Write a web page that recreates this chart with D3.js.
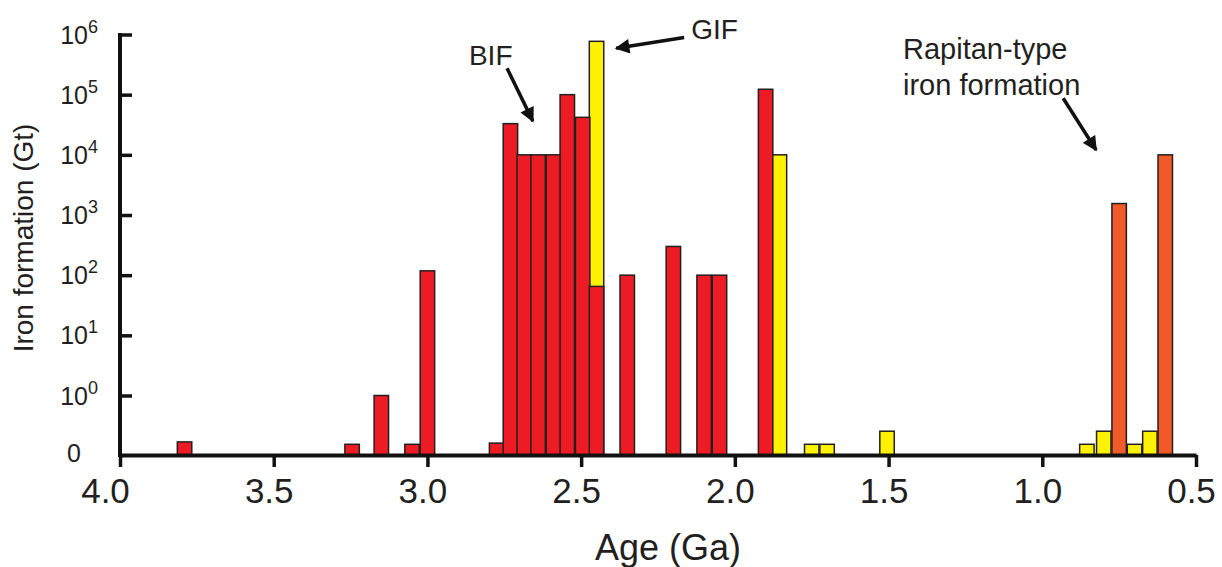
<!DOCTYPE html>
<html>
<head>
<meta charset="utf-8">
<script src="https://cdn.jsdelivr.net/npm/d3@7"></script>
<style>
  html, body { margin: 0; padding: 0; background: #fff; }
  svg { display: block; }
  text { font-family: "Liberation Sans", Arial, sans-serif; fill: #231f20; }
</style>
</head>
<body>
<svg id="chart" width="1222" height="567"></svg>
<script>
// ---- Data ----
const redAges     = [3.79, 3.245, 3.15, 3.05, 3.0, 2.775, 2.73, 2.685, 2.64, 2.59, 2.545, 2.495, 2.45, 2.35, 2.2, 2.1, 2.05, 1.9];
const redValues   = [0.22, 0.18, 1, 0.18, 118, 0.2, 33000, 10000, 10000, 10000, 100000, 42000, 65, 100, 300, 100, 100, 123000];
const yellowAges   = [2.45, 1.855, 1.75, 1.70, 1.505, 0.855, 0.80, 0.70, 0.65];
const yellowValues = [770000, 10000, 0.18, 0.18, 0.4, 0.18, 0.4, 0.18, 0.4];
const orangeAges   = [0.75, 0.60];
const orangeValues = [1550, 10000];
const xTicks = [4.0, 3.5, 3.0, 2.5, 2.0, 1.5, 1.0, 0.5];
const yLogTicks = [1, 10, 100, 1000, 10000, 100000, 1000000];
const yExponents = ["0", "1", "2", "3", "4", "5", "6"];
const xTitle = "Age (Ga)";
const yTitle = "Iron formation (Gt)";
// annotations: arrow tail/tip in (age, value)
const annotations = [
  { lines: ["BIF"], textAge: 2.865, textVal: 10 ** 5.49, tail: [2.741, 10 ** 5.44], tip: [2.657, 10 ** 4.56] },
  { lines: ["GIF"], textAge: 2.142, textVal: 10 ** 5.93, tail: [2.165, 10 ** 5.95], tip: [2.386, 10 ** 5.77] },
  { lines: ["Rapitan-type", "iron formation"], textAge: 1.453, textVal: 10 ** 5.6, tail: [0.932, 10 ** 4.94], tip: [0.825, 10 ** 4.08] }
];

const binWidth = 0.047;
const colors = { red: "#ed1c24", yellow: "#fff200", orange: "#f15a29" };

// ---- Scales ----
const x = d3.scaleLinear().domain([4.0, 0.5]).range([120, 1196]);
const yLog = d3.scaleLog().domain([1, 1e6]).range([395.5, 34.5]);
const yLin = d3.scaleLinear().domain([0, 1]).range([455, 395.5]);
const y = v => (v >= 1 ? yLog(v) : yLin(v));

const svg = d3.select("#chart");

// ---- Bars ----
function drawBars(ages, values, color) {
  const data = ages.map((a, i) => ({ a, v: values[i] }));
  svg.append("g").selectAll("rect").data(data).join("rect")
    .attr("x", d => x(d.a + binWidth / 2))
    .attr("width", d => x(d.a - binWidth / 2) - x(d.a + binWidth / 2))
    .attr("y", d => y(d.v))
    .attr("height", d => y(0) - y(d.v))
    .attr("fill", color)
    .attr("stroke", "#231f20")
    .attr("stroke-width", 1.5);
}
drawBars(yellowAges, yellowValues, colors.yellow);
drawBars(redAges, redValues, colors.red);
drawBars(orangeAges, orangeValues, colors.orange);

// ---- X axis ----
const xAxis = d3.axisBottom(x).tickValues(xTicks).tickSize(12).tickSizeOuter(0)
  .tickPadding(11).tickFormat(d3.format(".1f"));
const gx = svg.append("g").attr("transform", `translate(0,${y(0)})`).call(xAxis);
gx.select(".domain").attr("stroke", "#111").attr("stroke-width", 4);
gx.selectAll(".tick line").attr("stroke", "#111").attr("stroke-width", 3.5);
gx.selectAll(".tick text").attr("font-size", 35).attr("fill", "#231f20")
  .attr("font-family", "Liberation Sans, Arial, sans-serif")
  .attr("dx", d => (d === 4 ? -15 : -5));

// ---- Y axis ----
const yAxis = d3.axisLeft(yLog).tickValues(yLogTicks).tickSize(-12).tickSizeOuter(0).tickFormat(() => "");
const gy = svg.append("g").attr("transform", `translate(${x(4.0)},0)`).call(yAxis);
gy.select(".domain").remove();
gy.selectAll(".tick line").attr("stroke", "#111").attr("stroke-width", 3.5);
svg.append("line")
  .attr("x1", x(4.0)).attr("x2", x(4.0))
  .attr("y1", yLog(1e6) - 1.5).attr("y2", y(0) + 2)
  .attr("stroke", "#111").attr("stroke-width", 4);

const yl = svg.append("g").attr("font-size", 25);
yLogTicks.forEach((t, i) => {
  const txt = yl.append("text").attr("x", 98).attr("y", yLog(t) + 9).attr("text-anchor", "end");
  txt.append("tspan").text("10");
  txt.append("tspan").attr("font-size", 18).attr("dy", -11).text(yExponents[i]);
});
yl.append("text").attr("x", 81).attr("y", y(0) + 7).attr("text-anchor", "end").text("0");

// ---- Titles ----
svg.append("text").attr("x", 668).attr("y", 560).attr("text-anchor", "middle")
  .attr("font-size", 36).text(xTitle);
svg.append("text").attr("transform", "translate(33,238) rotate(-90)")
  .attr("text-anchor", "middle").attr("font-size", 28).text(yTitle);

// ---- Annotations ----
svg.append("defs").append("marker")
  .attr("id", "arrow").attr("viewBox", "0 0 10 10").attr("refX", 9).attr("refY", 5)
  .attr("markerWidth", 4.6).attr("markerHeight", 4.2).attr("markerUnits", "strokeWidth")
  .attr("orient", "auto")
  .append("path").attr("d", "M0,0 L10,5 L0,10 Z").attr("fill", "#111");

annotations.forEach(a => {
  const t = svg.append("text").attr("font-size", a.lines.length > 1 ? 29 : 28);
  a.lines.forEach((l, i) => {
    t.append("tspan").attr("x", x(a.textAge)).attr("y", yLog(a.textVal) + i * 36).text(l);
  });
  svg.append("line")
    .attr("x1", x(a.tail[0])).attr("y1", yLog(a.tail[1]))
    .attr("x2", x(a.tip[0])).attr("y2", yLog(a.tip[1]))
    .attr("stroke", "#111").attr("stroke-width", 3.5)
    .attr("marker-end", "url(#arrow)");
});
</script>
</body>
</html>
